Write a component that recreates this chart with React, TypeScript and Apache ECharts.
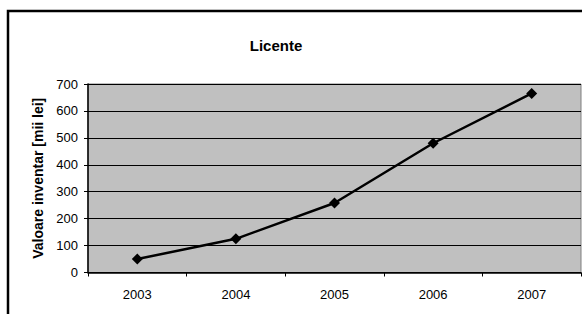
import React, { useEffect, useRef } from "react";
import * as echarts from "echarts";

const categories = ["2003", "2004", "2005", "2006", "2007"];
const values = [50, 125, 258, 480, 665];
const titleText = "Licente";
const yAxisName = "Valoare inventar [mii lei]";

export default function App() {
  const ref = useRef<HTMLDivElement>(null);
  useEffect(() => {
    if (!ref.current) return;
    const chart = echarts.init(ref.current, undefined, { renderer: "svg" });
    chart.setOption({
      animation: false,
      backgroundColor: "#ffffff",
      textStyle: { fontFamily: "Liberation Sans" },
      title: {
        text: titleText,
        left: 271,
        top: 33,
        textAlign: "center",
        textStyle: { fontSize: 15, fontWeight: "bold", color: "#000", fontFamily: "Liberation Sans" },
      },
      graphic: [
        {
          type: "rect",
          shape: { x: 8, y: 11, width: 700, height: 400 },
          style: { fill: "none", stroke: "#000", lineWidth: 2.5 },
          z: 100,
        },
      ],
      grid: {
        left: 88,
        top: 84,
        right: 1,
        bottom: 41.5,
        show: true,
        backgroundColor: "#C0C0C0",
        borderColor: "#808080",
        borderWidth: 1,
      },
      xAxis: {
        type: "category",
        data: categories,
        boundaryGap: true,
        axisLine: { show: true, lineStyle: { color: "#000", width: 1.5 } },
        axisTick: { show: true, length: 4, lineStyle: { color: "#000" }, alignWithLabel: false },
        axisLabel: { color: "#000", fontSize: 13, margin: 15, fontFamily: "Liberation Sans" },
        splitLine: { show: false },
      },
      yAxis: {
        type: "value",
        min: 0,
        max: 700,
        interval: 100,
        name: yAxisName,
        nameLocation: "middle",
        nameGap: 43,
        nameRotate: 90,
        nameTextStyle: { color: "#000", fontSize: 14, fontWeight: "bold", fontFamily: "Liberation Sans" },
        axisLine: { show: true, lineStyle: { color: "#000", width: 1.5 } },
        axisTick: { show: true, length: 4, lineStyle: { color: "#000" } },
        axisLabel: { color: "#000", fontSize: 13, margin: 10, fontFamily: "Liberation Sans" },
        splitLine: { show: true, lineStyle: { color: "#000", width: 1 } },
      },
      series: [
        {
          type: "line",
          data: values,
          symbol: "diamond",
          symbolSize: 11,
          itemStyle: { color: "#000" },
          lineStyle: { color: "#000", width: 2.5 },
        },
      ],
    });
    return () => chart.dispose();
  }, []);
  return <div ref={ref} style={{ width: 582, height: 314, position: "absolute", left: 0, top: 0 }} />;
}
